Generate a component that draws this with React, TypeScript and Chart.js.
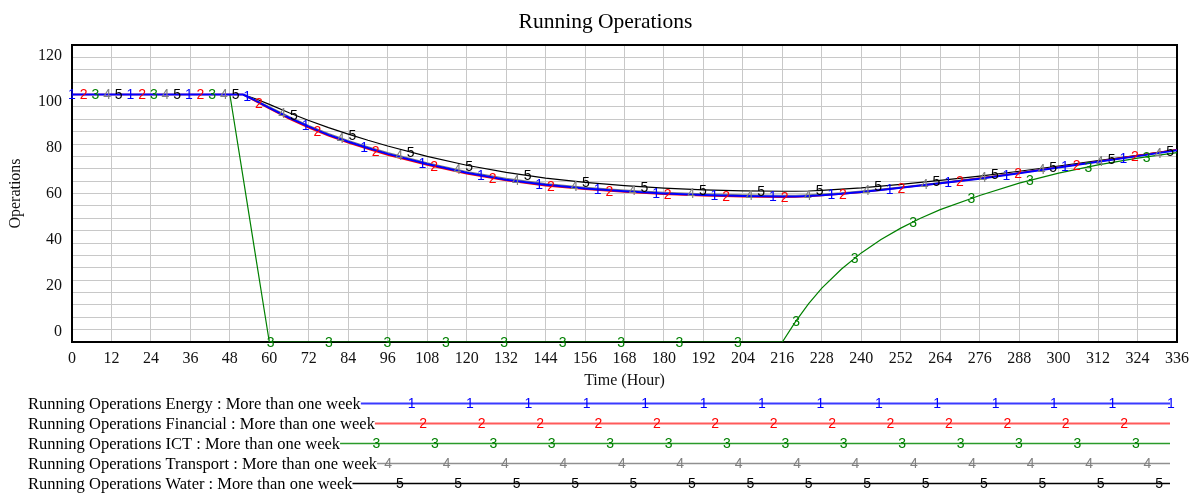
import { useEffect, useRef } from 'react';
import { Chart, registerables } from 'chart.js';

Chart.register(...registerables);

// ---------------- data ----------------
const chartTitle = 'Running Operations';
const xAxisTitle = 'Time (Hour)';
const yAxisTitle = 'Operations';

const xTickValues = [0, 12, 24, 36, 48, 60, 72, 84, 96, 108, 120, 132, 144, 156, 168, 180, 192, 204, 216, 228, 240, 252, 264, 276, 288, 300, 312, 324, 336];
const yTickLabels = [0, 20, 40, 60, 80, 100, 120];
const yGridValues = [0, 5, 10, 15, 20, 25, 30, 35, 40, 45, 50, 55, 60, 65, 70, 75, 80, 85, 90, 95, 100, 105, 110, 115, 120];

const seriesNames = [
  'Running Operations Energy : More than one week',
  'Running Operations Financial : More than one week',
  'Running Operations ICT : More than one week',
  'Running Operations Transport : More than one week',
  'Running Operations Water : More than one week',
];

const hours = [0, 12, 24, 36, 48, 52, 56, 60, 66, 72, 78, 84, 90, 96, 108, 120, 132, 144, 156, 168, 180, 192, 204, 216, 220, 224, 228, 234, 240, 246, 252, 258, 264, 276, 288, 300, 312, 324, 336];

const energy = [100, 100, 100, 100, 100, 100, 97.4, 94.6, 90.6, 87.0, 83.7, 80.9, 78.4, 76.0, 71.9, 68.4, 65.6, 63.5, 62.0, 60.9, 60.0, 59.4, 59.0, 58.8, 58.8, 59.0, 59.3, 59.9, 60.6, 61.4, 62.3, 63.2, 64.1, 66.0, 68.2, 70.5, 72.8, 75.1, 77.5];
const financial = [100, 100, 100, 100, 100, 100, 97.2, 94.3, 90.2, 86.6, 83.3, 80.5, 78.0, 75.6, 71.5, 68.0, 65.3, 63.2, 61.7, 60.6, 59.7, 59.1, 58.7, 58.5, 58.6, 58.8, 59.2, 59.8, 60.5, 61.4, 62.3, 63.2, 64.1, 66.1, 68.3, 70.6, 72.9, 75.3, 77.7];
const ict = [100, 100, 100, 100, 100, 66.7, 33.3, 0, 0, 0, 0, 0, 0, 0, 0, 0, 0, 0, 0, 0, 0, 0, 0, 0, 8.2, 15.5, 21.8, 29.5, 36.0, 41.4, 46.0, 50.0, 53.5, 59.2, 64.2, 68.2, 71.6, 74.3, 76.5];
const transport = [100, 100, 100, 100, 100, 100, 97.7, 95.0, 91.1, 87.5, 84.2, 81.4, 78.9, 76.5, 72.4, 68.9, 66.1, 64.0, 62.5, 61.4, 60.5, 59.9, 59.5, 59.3, 59.3, 59.5, 59.8, 60.3, 61.0, 61.8, 62.6, 63.5, 64.4, 66.3, 68.4, 70.6, 72.9, 75.2, 77.6];
const water = [100, 100, 100, 100, 100, 100, 98.2, 96.0, 92.6, 89.5, 86.6, 84.0, 81.5, 79.2, 75.0, 71.4, 68.5, 66.2, 64.5, 63.2, 62.2, 61.5, 61.1, 60.9, 60.9, 61.0, 61.3, 61.8, 62.3, 63.0, 63.7, 64.5, 65.3, 67.0, 69.0, 71.1, 73.3, 75.4, 77.7];

const seriesValues = [energy, financial, ict, transport, water];

// ---------------- style ----------------
const SERIF = '"Liberation Serif", "Times New Roman", serif';
const SANS = '"Liberation Sans", Arial, sans-serif';
const seriesColors = ['#0000ff', '#ff0000', '#008000', '#808080', '#000000'];
const seriesWidths = [2, 1.6, 1.2, 1.2, 1.2];
const legendLineColors = ['#3a3aff', '#ff5a5a', '#2a9a2a', '#909090', '#000000'];
const legendLineWidths = [2, 2, 1.6, 1.6, 1.6];
const GRID = '#c8c8c8';

// marker (digit) spacing along the lines, in hours
const MARK_STEP_H = 17.76;
const MARK_OFFSET_H = 3.552;

// legend layout
const LEGEND_X = 28;
const LEGEND_TOP = 403.5;
const LEGEND_GAP = 20;
const LEGEND_END = 1170;
const LEGEND_MARK0 = 119.5;

const borderPlugin = {
  id: 'plotBorder',
  beforeDatasetsDraw(chart: any) {
    const { ctx, chartArea } = chart;
    ctx.save();
    ctx.strokeStyle = '#000';
    ctx.lineWidth = 2;
    ctx.strokeRect(chartArea.left, chartArea.top, chartArea.right - chartArea.left, chartArea.bottom - chartArea.top);
    ctx.restore();
  },
};

const markerPlugin = {
  id: 'lineDigits',
  afterDatasetsDraw(chart: any) {
    const { ctx } = chart;
    const x = chart.scales.x;
    ctx.save();
    ctx.font = `14px ${SANS}`;
    ctx.textAlign = 'center';
    ctx.textBaseline = 'middle';
    chart.data.datasets.forEach((ds: any, k: number) => {
      const line = chart.getDatasetMeta(k).dataset;
      ctx.fillStyle = ds.borderColor;
      for (let n = 0; n < 40; n++) {
        const t = k * MARK_OFFSET_H + n * MARK_STEP_H;
        if (t > x.max) break;
        const px = x.getPixelForValue(t);
        let p = line.interpolate({ x: px }, 'x');
        if (!p) continue;
        if (Array.isArray(p)) p = p[0];
        ctx.fillText(String(k + 1), px, p.y + 1);
      }
    });
    ctx.restore();
  },
};

const legendPlugin = {
  id: 'vensimLegend',
  afterDraw(chart: any) {
    const { ctx } = chart;
    const x = chart.scales.x;
    const stepPx = x.getPixelForValue(MARK_STEP_H) - x.getPixelForValue(0);
    const offPx = x.getPixelForValue(MARK_OFFSET_H) - x.getPixelForValue(0);
    ctx.save();
    chart.data.datasets.forEach((ds: any, k: number) => {
      const y = LEGEND_TOP + k * LEGEND_GAP;
      ctx.font = `16.5px ${SERIF}`;
      ctx.fillStyle = '#000';
      ctx.textAlign = 'left';
      ctx.textBaseline = 'middle';
      ctx.fillText(ds.label, LEGEND_X, y + 1);
      const start = LEGEND_X + ctx.measureText(ds.label).width;
      ctx.strokeStyle = legendLineColors[k];
      ctx.lineWidth = legendLineWidths[k];
      ctx.beginPath();
      ctx.moveTo(start, y);
      ctx.lineTo(LEGEND_END, y);
      ctx.stroke();
      ctx.font = `14px ${SANS}`;
      ctx.fillStyle = ds.borderColor;
      ctx.textAlign = 'center';
      for (let n = 0; n < 30; n++) {
        const mx = LEGEND_MARK0 + k * offPx + n * stepPx;
        if (mx < start + 4) continue;
        if (mx > LEGEND_END + 1) break;
        ctx.fillText(String(k + 1), mx, y + 1);
      }
    });
    ctx.restore();
  },
};

export default function App() {
  const canvasRef = useRef<HTMLCanvasElement | null>(null);

  useEffect(() => {
    if (!canvasRef.current) return;
    const tickFont = { family: SERIF, size: 16, weight: 'normal' as const };
    const chart = new Chart(canvasRef.current, {
      type: 'line',
      data: {
        datasets: seriesNames.map((name, k) => ({
          label: name,
          data: hours.map((h, i) => ({ x: h, y: seriesValues[k][i] })),
          borderColor: seriesColors[k],
          backgroundColor: seriesColors[k],
          borderWidth: seriesWidths[k],
          pointRadius: 0,
          tension: 0,
          fill: false,
          xAxisID: 'x',
          yAxisID: 'y',
        })),
      },
      options: {
        responsive: false,
        animation: false,
        events: [],
        layout: { padding: { left: 10, right: 0, top: 0, bottom: 106 } },
        plugins: {
          legend: { display: false },
          tooltip: { enabled: false },
          title: {
            display: true,
            text: chartTitle,
            color: '#000',
            font: { family: SERIF, size: 21.5, weight: 'normal' },
            padding: { top: 9, bottom: 10.2 },
          },
        },
        scales: {
          x: {
            type: 'linear',
            position: 'bottom',
            min: 0,
            max: 336,
            afterBuildTicks: (s: any) => { s.ticks = xTickValues.map((v) => ({ value: v })); },
            ticks: { autoSkip: false, maxRotation: 0, font: tickFont, color: '#111', padding: 7 },
            grid: { color: GRID, lineWidth: 1, drawTicks: false },
            border: { display: false },
            title: { display: true, text: xAxisTitle, color: '#111', font: tickFont, padding: { top: 0, bottom: 0 } },
            afterFit: (s: any) => { s.height = 48; },
          },
          y: {
            type: 'linear',
            position: 'left',
            min: 0,
            max: 120,
            afterBuildTicks: (s: any) => { s.ticks = yGridValues.map((v) => ({ value: v })); },
            ticks: { display: false },
            grid: { color: GRID, lineWidth: 1, drawTicks: false },
            border: { display: false },
            afterFit: (s: any) => { s.width = 0; },
          },
          yl: {
            type: 'linear',
            position: 'left',
            min: -4.34,
            max: 124.78,
            afterBuildTicks: (s: any) => { s.ticks = yTickLabels.map((v) => ({ value: v })); },
            ticks: { font: tickFont, color: '#111', padding: 10 },
            grid: { display: false, drawTicks: false },
            border: { display: false },
            title: { display: true, text: yAxisTitle, color: '#111', font: { ...tickFont, lineHeight: 1 }, padding: { top: -2, bottom: 0 } },
            afterFit: (s: any) => { s.width = 62; },
          },
          yr: {
            type: 'linear',
            position: 'right',
            display: true,
            ticks: { display: false },
            grid: { display: false, drawTicks: false },
            border: { display: false },
            afterFit: (s: any) => { s.width = 24; },
          },
        },
      },
      plugins: [borderPlugin, markerPlugin, legendPlugin],
    } as any);
    return () => chart.destroy();
  }, []);

  return (
    <div style={{ position: 'absolute', left: 0, top: 0, width: 1201, height: 496, background: '#fff' }}>
      <canvas ref={canvasRef} width={1201} height={496} style={{ width: 1201, height: 496, display: 'block' }} />
    </div>
  );
}
